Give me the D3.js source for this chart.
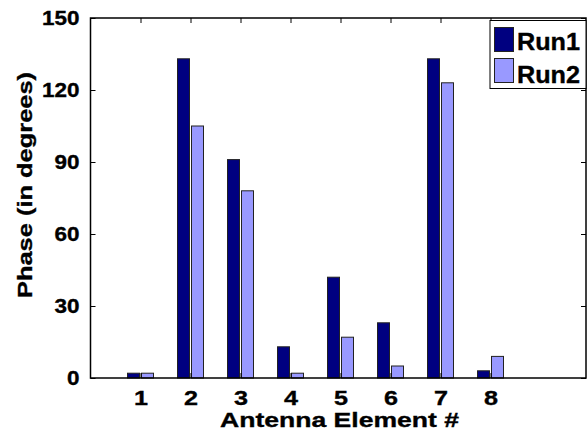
<!DOCTYPE html>
<html>
<head>
  <meta charset="utf-8">
  <script src="https://d3js.org/d3.v7.min.js"></script>
  <style>
    body { margin: 0; background: #fff; }
    text { font-family: Arial, "Liberation Sans", Helvetica, sans-serif; font-weight: bold; fill: #000; stroke: #000; stroke-width: 0.35px; }
  </style>
</head>
<body>
  <script type="text/javascript">
	var elements = [1, 2, 3, 4, 5, 6, 7, 8];
	var run1 = [2, 133, 91, 13, 42, 23, 133, 3];
	var run2 = [2, 105, 78, 2, 17, 5, 123, 9];
	var seriesNames = ["Run1", "Run2"];
	var seriesColors = ["#000080", "#9999ff"];
	var yTicks = [0, 30, 60, 90, 120, 150];

	var width = 587, height = 439;
	var plotLeft = 90.5, plotRight = 586, plotTop = 18, plotBottom = 378;

	var svg = d3.select("body").append("svg")
		.attr("width", width)
		.attr("height", height);

	var x = d3.scaleLinear().domain([0, 10]).range([plotLeft, plotLeft + 500]);
	var y = d3.scaleLinear().domain([0, 150]).range([plotBottom, plotTop]);

	// bars
	var offsets = [-0.14, 0.14];
	var barW = x(0.24) - x(0);
	[run1, run2].forEach(function (vals, k) {
		svg.append("g").selectAll("rect")
			.data(vals)
			.enter().append("rect")
			.attr("x", function (d, i) { return x(elements[i] + offsets[k]) - barW / 2; })
			.attr("y", function (d) { return y(d); })
			.attr("width", barW)
			.attr("height", function (d) { return y(0) - y(d); })
			.style("fill", seriesColors[k])
			.style("stroke", "#222")
			.style("stroke-width", 1);
	});

	// frame
	svg.append("rect")
		.attr("x", plotLeft).attr("y", plotTop)
		.attr("width", plotRight - plotLeft).attr("height", plotBottom - plotTop)
		.style("fill", "none").style("stroke", "#000").style("stroke-width", 1.5);

	// y ticks (inside, both sides)
	var yAxis = svg.append("g")
		.attr("transform", "translate(" + plotLeft + ",0)")
		.call(d3.axisLeft(y).tickValues(yTicks).tickSize(-5).tickPadding(11));
	yAxis.select(".domain").remove();
	yAxis.selectAll("line").style("stroke", "#000");
	yAxis.selectAll("text")
		.style("font-size", "19.5px")
		.attr("textLength", function (d) { return String(d).length * 12.5; })
		.attr("lengthAdjust", "spacingAndGlyphs");

	var yRight = svg.append("g")
		.attr("transform", "translate(" + plotRight + ",0)")
		.call(d3.axisRight(y).tickValues(yTicks).tickSize(-5).tickFormat(""));
	yRight.select(".domain").remove();
	yRight.selectAll("line").style("stroke", "#000");

	// x ticks
	var xAxis = svg.append("g")
		.attr("transform", "translate(0," + plotBottom + ")")
		.call(d3.axisBottom(x).tickValues(elements).tickSize(-5).tickPadding(12).tickFormat(d3.format("d")));
	xAxis.select(".domain").remove();
	xAxis.selectAll("line").style("stroke", "#000");
	xAxis.selectAll("text")
		.style("font-size", "20.5px")
		.attr("textLength", 14)
		.attr("lengthAdjust", "spacingAndGlyphs");

	var xTop = svg.append("g")
		.attr("transform", "translate(0," + plotTop + ")")
		.call(d3.axisTop(x).tickValues(elements).tickSize(-5).tickFormat(""));
	xTop.select(".domain").remove();
	xTop.selectAll("line").style("stroke", "#000");

	// axis labels
	svg.append("text")
		.attr("x", 339.5).attr("y", 427)
		.style("text-anchor", "middle")
		.style("font-size", "21px")
		.attr("textLength", 239)
		.attr("lengthAdjust", "spacingAndGlyphs")
		.text("Antenna Element #");

	svg.append("text")
		.attr("transform", "translate(32,185) rotate(-90)")
		.style("text-anchor", "middle")
		.style("font-size", "21px")
		.attr("textLength", 226)
		.attr("lengthAdjust", "spacingAndGlyphs")
		.text("Phase (in degrees)");

	// legend
	var legend = svg.append("g");
	legend.append("rect")
		.attr("x", 490).attr("y", 20.5)
		.attr("width", 96).attr("height", 68)
		.style("fill", "#fff").style("stroke", "#000").style("stroke-width", 1);
	seriesNames.forEach(function (name, k) {
		legend.append("rect")
			.attr("x", 494.5).attr("y", 27.5 + k * 31)
			.attr("width", 19).attr("height", 24)
			.style("fill", seriesColors[k])
			.style("stroke", "#222");
		legend.append("text")
			.attr("x", 517).attr("y", 50 + k * 32.5)
			.style("font-size", "23px")
			.attr("textLength", 63)
			.attr("lengthAdjust", "spacingAndGlyphs")
			.text(name);
	});
  </script>
</body>
</html>
